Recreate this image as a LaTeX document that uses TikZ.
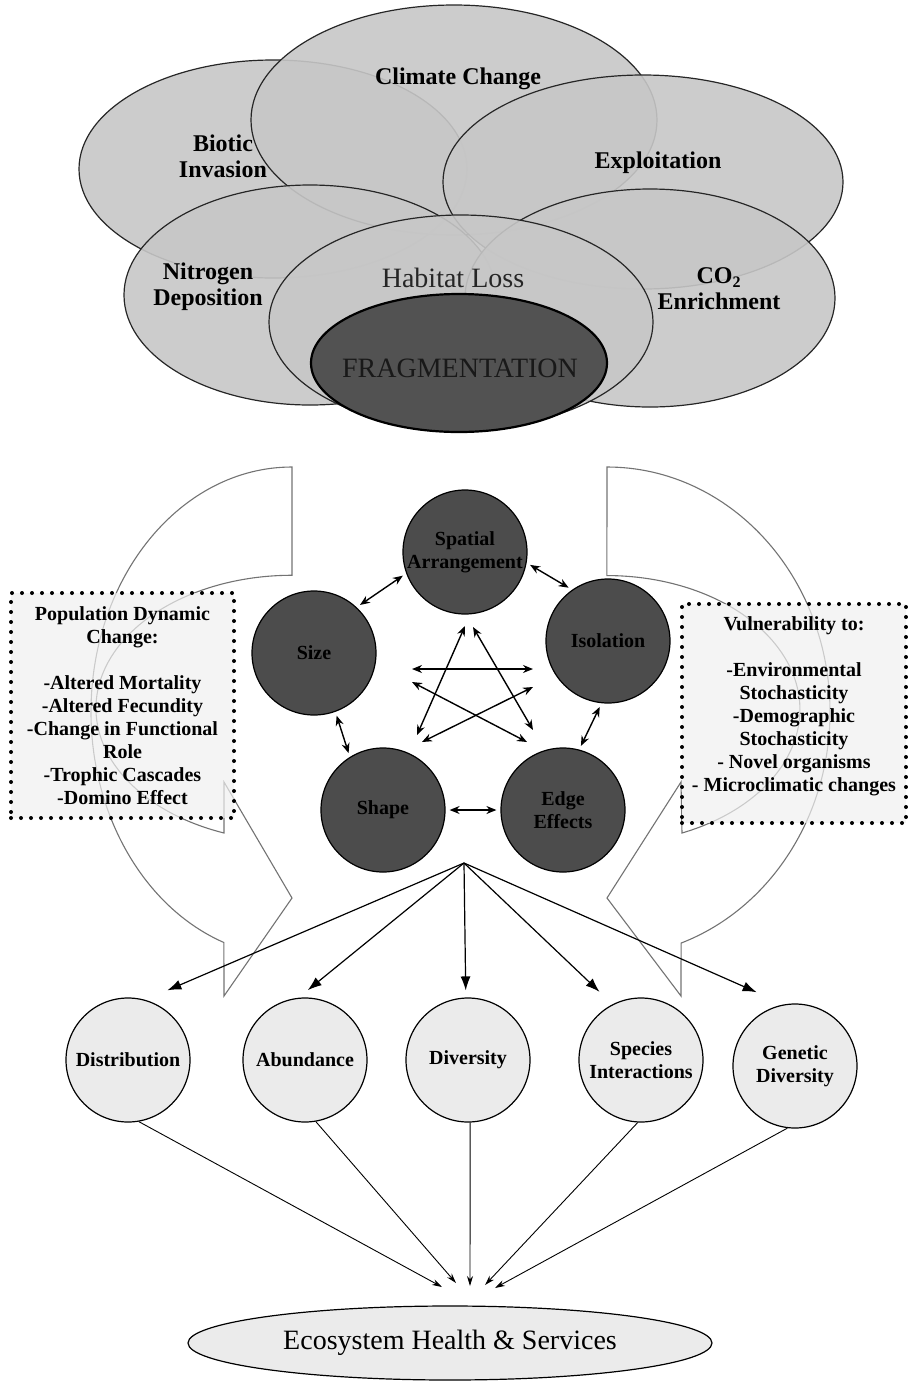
\documentclass[tikz,border=0pt]{standalone}
\usepackage{fontspec}
\setmainfont{Liberation Serif}
\usetikzlibrary{arrows.meta,shapes.geometric}

\tikzset{
  driver/.style={draw=black!85, line width=0.6pt, fill=black!22, fill opacity=0.9},
  drvlabel/.style={font=\fontsize{12}{13}\selectfont\bfseries, align=center},
  metric/.style={circle, draw, line width=0.6pt, fill=black!70, minimum size=62pt, inner sep=0pt, align=center, font=\fontsize{10}{11.5}\selectfont\bfseries},
  outcome/.style={circle, draw, line width=0.6pt, fill=black!8, minimum size=62pt, inner sep=0pt, align=center, font=\fontsize{10}{11.5}\selectfont\bfseries},
  twoway/.style={{Stealth[length=5pt,width=4pt]}-{Stealth[length=5pt,width=4pt]}, line width=0.7pt, shorten <=2pt, shorten >=2pt},
  starline/.style={twoway, shorten <=0pt, shorten >=0pt},
  fan/.style={-{Latex[length=7pt,width=5pt]}, line width=0.6pt},
  feed/.style={-{Stealth[length=5pt,width=3pt]}, line width=0.45pt},
  notebox/.style={draw, line width=2pt, dash pattern=on 0pt off 5pt, line cap=round, fill=black!6, fill opacity=0.7, text opacity=1, align=center, inner sep=0pt, font=\fontsize{10}{11.5}\selectfont\bfseries},
  bendarrow/.style={draw=black!55, line width=0.55pt}
}

\begin{document}
\begin{tikzpicture}[x=0.5pt, y=-0.5pt]
\useasboundingbox (0,0) rectangle (908,1383);

% drivers of change
\draw[driver] (273,169) ellipse [x radius=194, y radius=109];
\draw[driver] (454,120) ellipse [x radius=203, y radius=115];
\draw[driver] (643,182) ellipse [x radius=200, y radius=107];
\draw[driver] (310,295) ellipse [x radius=186, y radius=110];
\draw[driver] (650,298) ellipse [x radius=185, y radius=109];
\draw[driver] (461,322) ellipse [x radius=192, y radius=107];
\draw[line width=1.1pt, fill=black!68] (459,363) ellipse [x radius=148, y radius=69];

\node[drvlabel] (bio) at (223,156) {Biotic\\Invasion};
\node[drvlabel] (clim) at (458,79) {Climate Change};
\node[drvlabel] (expl) at (658,163) {Exploitation};
\node[drvlabel] (nitro) at (208,287) {Nitrogen\\Deposition};
\node[drvlabel] (co2) at (719,289) {CO\textsubscript{2}\\Enrichment};
\node[font=\fontsize{14}{15}\selectfont, text=black!85] (habl) at (453,278) {Habitat Loss};
\node[font=\fontsize{14}{15}\selectfont, text=black!90] (frag) at (460,368) {FRAGMENTATION};

% curved side arrows
\draw[bendarrow] (292,467) arc [start angle=270, end angle=109.8, x radius=201, y radius=245]
  -- (224,996) -- (292,898) -- (224,782) -- (224,833)
  arc [start angle=110.3, end angle=270, x radius=196, y radius=133] -- cycle;
\draw[bendarrow] (607,467) arc [start angle=-90, end angle=70.6, x radius=223, y radius=245]
  -- (681,996) -- (607,898) -- (681,782) -- (682,833)
  arc [start angle=67.1, end angle=-90, x radius=193, y radius=134] -- cycle;

% side notes
\node[notebox, minimum width=111.5pt, minimum height=112.5pt] (popbox) at (122.5,705.5)
  {Population Dynamic\\Change:\\[11.5pt]-Altered Mortality\\-Altered Fecundity\\-Change in Functional\\Role\\-Trophic Cascades\\-Domino Effect};
\node[notebox, minimum width=112pt, minimum height=109.5pt] (vulbox) at (794,713.5)
  {Vulnerability to:\\[11.5pt]-Environmental\\Stochasticity\\-Demographic\\Stochasticity\\- Novel organisms\\- Microclimatic changes\\[-2.5pt]\mbox{}};

% fragmentation metrics
\node[metric] (spat) at (465,552) {Spatial\\Arrangement};
\node[metric] (size) at (314,653) {Size};
\node[metric] (isol) at (608,641) {Isolation};
\node[metric] (shape) at (383,810) {Shape};
\node[metric] (edge) at (563,810) {Edge\\Effects};

\draw[twoway] (spat.200) -- (size.47);
\draw[twoway] (spat.350) -- (isol.125);
\draw[twoway] (size.290) -- (shape.122);
\draw[twoway] (shape.east) -- (edge.west);
\draw[twoway] (edge.75) -- (isol.264);

\coordinate (hz-l) at (412,669);
\coordinate (hz-r) at (533,669);
\coordinate (sp-l) at (465,626);
\coordinate (sh-t) at (417,735);
\coordinate (sp-r) at (473,627);
\coordinate (ed-t) at (533,730);
\coordinate (sz-in) at (412,682);
\coordinate (ed-in) at (527,742);
\coordinate (is-in) at (533,687);
\coordinate (sh-in) at (422,742);
\draw[starline] (hz-l) -- (hz-r);
\draw[starline] (sp-l) -- (sh-t);
\draw[starline] (sp-r) -- (ed-t);
\draw[starline] (sz-in) -- (ed-in);
\draw[starline] (is-in) -- (sh-in);

% biological responses
\node[outcome] (dist) at (128,1060) {Distribution};
\node[outcome] (abun) at (305,1060) {Abundance};
\node[outcome] (divs) at (468,1060) {Diversity};
\node[outcome] (spec) at (641,1060) {Species\\Interactions};
\node[outcome] (gene) at (795,1066) {Genetic\\Diversity};

\coordinate (hub) at (464,863);
\draw[fan, shorten >=12pt] (hub) -- (dist.74);
\draw[fan, shorten >=6pt] (hub) -- (abun.96);
\draw[fan, shorten >=3.5pt] (hub) -- (divs.92);
\draw[fan, shorten >=9pt] (hub) -- (spec.117);
\draw[fan, shorten >=15pt] (hub) -- (gene.100);

\node[ellipse, draw, line width=0.6pt, fill=black!8, minimum width=262pt, minimum height=37pt, inner sep=0pt, font=\fontsize{14}{15}\selectfont] (eco) at (450,1343) {Ecosystem Health \& Services};

\coordinate (in1) at (442,1287);
\coordinate (in2) at (456,1283);
\coordinate (in3) at (470,1286);
\coordinate (in4) at (485,1285);
\coordinate (in5) at (495,1288);
\draw[feed] (dist.-80) -- (in1);
\draw[feed] (abun.-80) -- (in2);
\draw[feed] (divs.-88) -- (in3);
\draw[feed] (spec.-93) -- (in4);
\draw[feed] (gene.-97) -- (in5);
\end{tikzpicture}
\end{document}
